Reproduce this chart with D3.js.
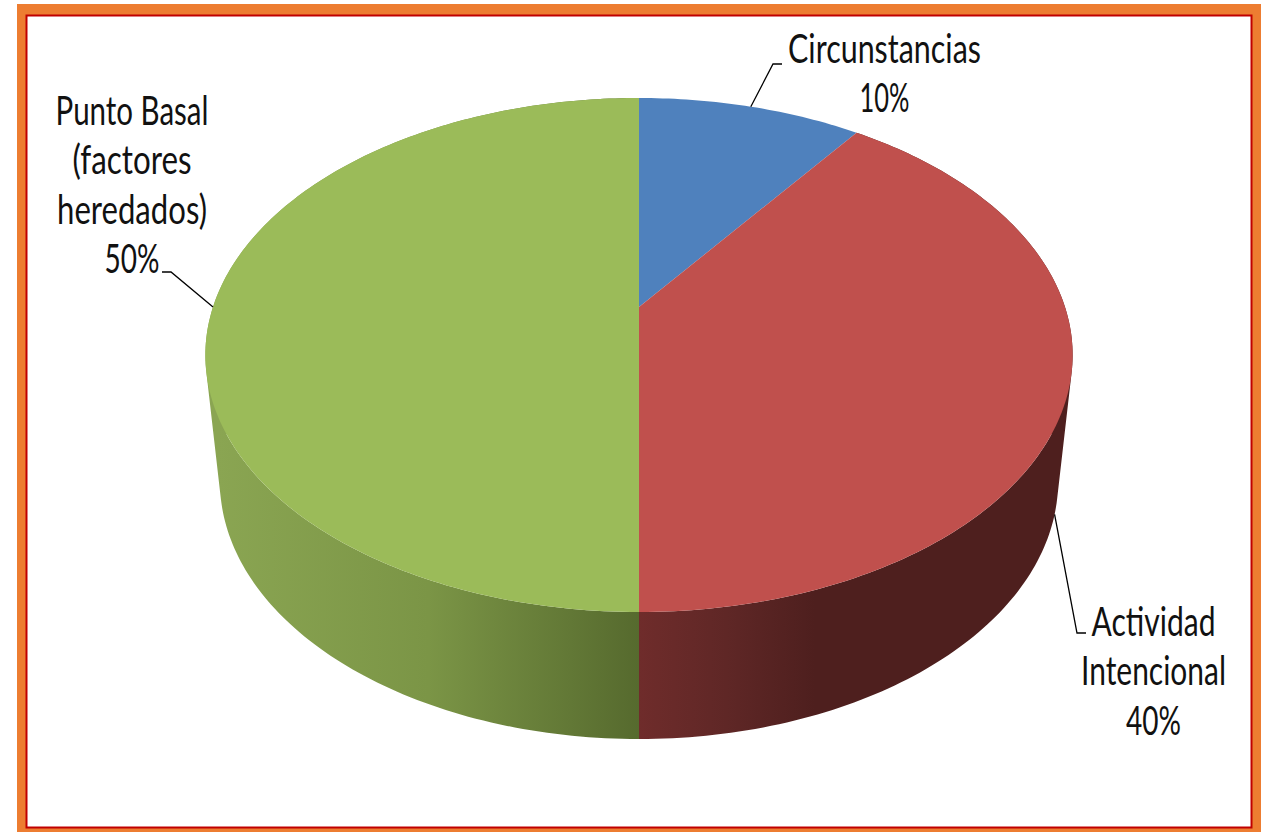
<!DOCTYPE html>
<html>
<head>
<meta charset="utf-8">
<style>
  html, body { margin: 0; padding: 0; background: #fff; }
  svg { display: block; }
  text { font-family: Lato, "Noto Sans", sans-serif; font-size: 40px; fill: #111; text-anchor: middle; }
</style>
</head>
<body>
<div id="chart"></div>
<script src="https://cdn.jsdelivr.net/npm/d3@7"></script>
<script>
const categories = ['Circunstancias', 'Actividad Intencional', 'Punto Basal (factores heredados)'];
const shares = [10, 40, 50];
const topColors = ['#4f81bd', '#c0504d', '#9bbb59'];
const labelLines = [
  ['Circunstancias', '10%'],
  ['Actividad', 'Intencional', '40%'],
  ['Punto Basal', '(factores', 'heredados)', '50%']
];
const lineWidths = [
  [193, 50],
  [124, 145, 55],
  [153, 119, 150, 55]
];

const width = 1263;
const height = 832;
const cx = 639;
const apex = [cx, 307];

const svg = d3.select('#chart')
  .append('svg')
  .attr('width', width)
  .attr('height', height);

// frame
svg.append('rect')
  .attr('x', 17).attr('y', 4)
  .attr('width', 1244).attr('height', 828)
  .attr('fill', '#ed7d31');
svg.append('rect')
  .attr('x', 26.5).attr('y', 15.5)
  .attr('width', 1225).attr('height', 812)
  .attr('fill', '#fff')
  .attr('stroke', '#c00000')
  .attr('stroke-width', 2);

// tilted disc: angle on the pie -> picture position
function topPoint(a) {
  const u = Math.sin(a);
  const v = -Math.cos(a);
  const w = 1 - 0.1868 * v;
  return [cx + 426 * u / w, (190.7 * v + 307) / w];
}
// same angle on the lower rim
function rimPoint(a) {
  const p = topPoint(a);
  return [cx + (p[0] - cx) * 419 / 433.5, 481 + (p[1] - 355) * 258 / 257];
}

const arcs = d3.pie().sort(null)(shares);
const line = d3.line();

function sweep(d, fn) {
  const n = Math.max(2, Math.ceil((d.endAngle - d.startAngle) * 60));
  return d3.range(n + 1).map(i => fn(d.startAngle + (d.endAngle - d.startAngle) * i / n));
}

// wall as a run of quads, all wound the same way so overlaps stay filled
function wall(d) {
  const t = sweep(d, topPoint);
  const r = sweep(d, rimPoint);
  return d3.pairs(d3.range(t.length)).map(([i, j]) => {
    const quad = [t[i], t[j], r[j], r[i]];
    if (d3.polygonArea(quad) < 0) quad.reverse();
    return line(quad) + 'Z';
  }).join('');
}

const defs = svg.append('defs');
function sideGradient(id, x1, x2, stops) {
  const g = defs.append('linearGradient')
    .attr('id', id)
    .attr('gradientUnits', 'userSpaceOnUse')
    .attr('x1', x1).attr('x2', x2)
    .attr('y1', 0).attr('y2', 0);
  stops.forEach(s => g.append('stop').attr('offset', s[0]).attr('stop-color', s[1]));
}
sideGradient('side1', 639, 815, [[0, '#6f2c2b'], [0.5, '#5f2726'], [1, '#4e1f1e']]);
sideGradient('side2', 218, 639, [[0, '#8aa552'], [0.5, '#7b9546'], [1, '#566a2e']]);

// walls first, then the top face over them
svg.selectAll('path.side')
  .data(arcs.slice(1))
  .enter()
  .append('path')
  .attr('class', 'side')
  .attr('d', wall)
  .attr('fill', (d, i) => 'url(#side' + (i + 1) + ')');

svg.selectAll('path.top')
  .data(arcs)
  .enter()
  .append('path')
  .attr('class', 'top')
  .attr('d', d => line([apex].concat(sweep(d, topPoint))) + 'Z')
  .attr('fill', (d, i) => topColors[i]);

// leader lines run from the slice middle to the label
const mid = d => (d.startAngle + d.endAngle) / 2;
const leaders = [
  [topPoint(mid(arcs[0])), [773, 64], [782, 64]],
  [rimPoint(mid(arcs[1])), [1077, 633], [1086, 633]],
  [topPoint(mid(arcs[2])), [171, 272], [162, 272]]
];
svg.selectAll('path.leader')
  .data(leaders)
  .enter()
  .append('path')
  .attr('class', 'leader')
  .attr('d', d => line(d))
  .attr('fill', 'none')
  .attr('stroke', '#000')
  .attr('stroke-width', 1.3);

// labels, squeezed sideways to the width of the original narrow face
const labelCenter = [884.5, 1153.5, 132];
const labelTop = [63, 636, 125];
const lineStep = 49.3;
labelLines.forEach((lines, i) => {
  lines.forEach((t, j) => {
    const label = svg.append('text').text(t);
    const sx = lineWidths[i][j] / label.node().getComputedTextLength();
    label.attr('transform', 'translate(' + labelCenter[i] + ',' + (labelTop[i] + j * lineStep) + ') scale(' + sx + ',1)');
  });
});
</script>
</body>
</html>
